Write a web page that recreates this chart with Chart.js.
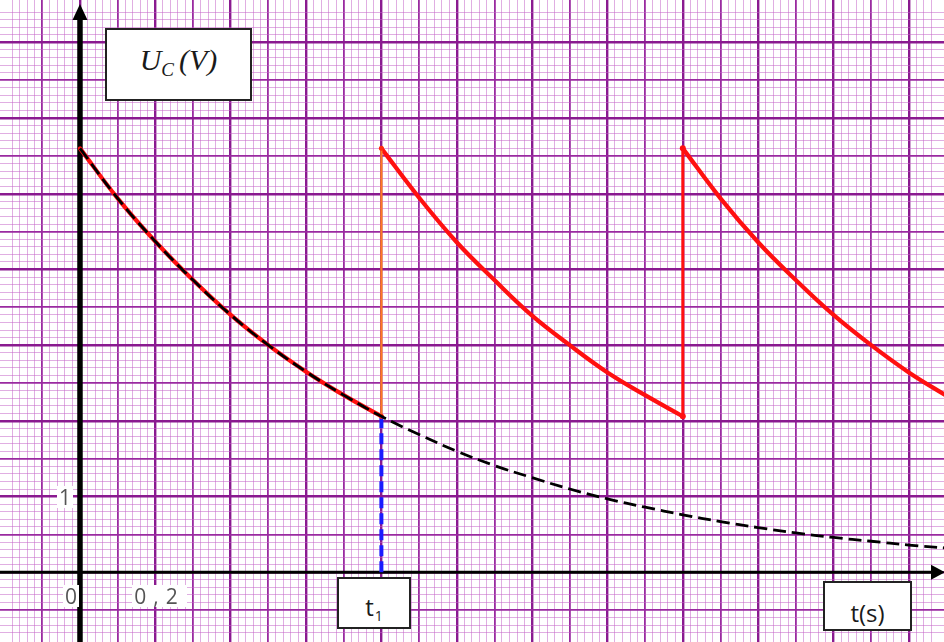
<!DOCTYPE html>
<html><head><meta charset="utf-8">
<script src="https://cdn.jsdelivr.net/npm/chart.js@4.4.0/dist/chart.umd.min.js"></script>
<style>
html,body{margin:0;padding:0;background:#fff;overflow:hidden}
#wrap{position:relative;width:944px;height:642px}
canvas{display:block}
.box{position:absolute;background:#fff;border:2px solid #222;box-sizing:border-box;display:flex;align-items:center;justify-content:center;color:#1a1a1a}
.lbl{position:absolute;background:#fff;color:#555;font-family:'Open Sans',sans-serif;font-size:21px;line-height:22px;padding:0 2px;white-space:nowrap}
#ucbox{font-family:'Liberation Serif',serif;font-style:italic;font-size:30px}
#ucbox sub{font-size:19px;vertical-align:-6px;margin-right:5px}
#t1box,#tsbox{font-family:'Open Sans',sans-serif;font-size:24px}
#t1box sub{font-size:14px;vertical-align:-5px;margin-left:1px}
</style></head><body>
<div id="wrap">
<canvas id="c" width="944" height="642"></canvas>
<div class="box" id="ucbox" style="left:105px;top:28px;width:147px;height:73px;padding-bottom:6px"><span>U<sub>C</sub>(V)</span></div>
<div class="box" id="t1box" style="left:337px;top:577px;width:74px;height:52px;padding-top:8px"><span>t<sub>1</sub></span></div>
<div class="box" id="tsbox" style="left:823px;top:581px;width:89px;height:50px;padding-top:12px"><span>t(s)</span></div>
<div class="lbl" id="lx0">0</div>
<div class="lbl" id="lx1" style="letter-spacing:7px">0,2</div>
<div class="lbl" id="ly1">1</div>
</div>
<script>
// ---- data ----
const seg1Times = [0, 0.1, 0.2, 0.3, 0.4, 0.5, 0.6, 0.7, 0.8];
const seg1Volts = [5.60, 4.94, 4.37, 3.86, 3.40, 3.00, 2.65, 2.34, 2.06];
const seg2Times = [0.8, 0.9, 1.0, 1.1, 1.2, 1.3, 1.4, 1.5, 1.6];
const seg2Volts = [5.60, 4.95, 4.36, 3.86, 3.39, 3.00, 2.64, 2.34, 2.06];
const seg3Times = [1.6, 1.7, 1.8, 1.9, 2.0, 2.1, 2.2, 2.3];
const seg3Volts = [5.60, 4.94, 4.36, 3.86, 3.40, 3.00, 2.64, 2.33];
const dashTimes = [0, 0.1, 0.2, 0.3, 0.4, 0.5, 0.6, 0.7, 0.8, 0.9, 1.0, 1.1, 1.2, 1.3, 1.4, 1.5, 1.6, 1.7, 1.8, 1.9, 2.0, 2.1, 2.2, 2.3, 2.4];
const dashVolts = [5.60, 4.94, 4.37, 3.86, 3.40, 3.00, 2.65, 2.34, 2.06, 1.82, 1.60, 1.41, 1.25, 1.10, 0.97, 0.86, 0.76, 0.67, 0.59, 0.52, 0.46, 0.41, 0.36, 0.32, 0.28];
const rechargeTimes = [0.8, 1.6];
const rechargeLow = [2.06, 2.06];
const rechargeHigh = [5.60, 5.60];
const t1Time = 0.8;
const t1Volt = 2.06;
const xTickValues = [0, 0.2];
const xTickLabels = ['0', '0,2'];
const yTickValues = [1];
const yTickLabels = ['1'];
// axis ranges
const X_MIN = -0.2123, X_MAX = 2.2933;
const Y_MIN = -0.921, Y_MAX = 7.56;

const pts = (xs, ys) => xs.map((v, i) => ({x: v, y: ys[i]}));

function gridOpts(step, majorEvery, halfEvery) {
  const cls = v => {
    const q = v / step, k = Math.round(q);
    if (Math.abs(q - k) > 1e-6) return 0;
    if (k % majorEvery === 0) return 3;
    if (Math.abs(k % majorEvery) === halfEvery) return 2;
    return 1;
  };
  return {
    drawTicks: false,
    color: c => ['rgba(0,0,0,0)', 'rgba(196,100,200,0.52)', '#9a2aa0', '#8a1a90'][cls(c.tick.value)],
    lineWidth: c => [0, 1, 1.8, 2.4][cls(c.tick.value)]
  };
}

const axesPlugin = {
  id: 'axes',
  beforeDatasetsDraw(chart) {
    const {ctx, scales: {x, y}, chartArea: a} = chart;
    const x0 = x.getPixelForValue(0), y0 = y.getPixelForValue(0);
    ctx.save();
    ctx.fillStyle = '#000'; ctx.strokeStyle = '#000';
    ctx.lineWidth = 3;
    ctx.beginPath(); ctx.moveTo(a.left, y0); ctx.lineTo(a.right - 8, y0); ctx.stroke();
    ctx.beginPath(); ctx.moveTo(a.right + 1, y0); ctx.lineTo(a.right - 13, y0 - 7.5); ctx.lineTo(a.right - 13, y0 + 7.5); ctx.closePath(); ctx.fill();
    ctx.lineWidth = 5.5;
    ctx.beginPath(); ctx.moveTo(x0, a.bottom); ctx.lineTo(x0, a.top + 16); ctx.stroke();
    ctx.beginPath(); ctx.moveTo(x0, a.top + 4); ctx.lineTo(x0 - 7.5, a.top + 20); ctx.lineTo(x0 + 7.5, a.top + 20); ctx.closePath(); ctx.fill();
    ctx.restore();
  }
};

const curve = (data, color, width, order) => ({
  data, borderColor: color, borderWidth: width, pointRadius: 0,
  tension: 0.4, fill: false, order, borderCapStyle: 'round'
});

const chart = new Chart(document.getElementById('c'), {
  type: 'line',
  data: {
    datasets: [
      Object.assign(curve(pts(dashTimes, dashVolts), '#000', 2.8, 0), {borderDash: [13, 6], borderCapStyle: 'butt'}),
      {data: pts([rechargeTimes[0], rechargeTimes[0]], [rechargeLow[0], rechargeHigh[0]]), borderColor: '#ff7a22', borderWidth: 2.2,
       pointRadius: 2.5, pointBackgroundColor: '#ff2a10', pointBorderWidth: 0, order: 1},
      {data: pts([rechargeTimes[1], rechargeTimes[1]], [rechargeLow[1], rechargeHigh[1]]), borderColor: '#ff1010', borderWidth: 3,
       pointRadius: 3, pointBackgroundColor: '#ff1010', pointBorderWidth: 0, order: 2},
      curve(pts(seg1Times, seg1Volts), '#ff1010', 4.2, 3),
      curve(pts(seg2Times, seg2Volts), '#ff1010', 4.2, 3),
      curve(pts(seg3Times, seg3Volts), '#ff1010', 4.2, 3),
      {data: pts([t1Time, t1Time], [0, t1Volt]), borderColor: '#1a1aff', borderWidth: 4, borderDash: [11, 5], pointRadius: 0, order: 4}
    ]
  },
  options: {
    responsive: false,
    animation: false,
    events: [],
    layout: {padding: 0, autoPadding: false},
    plugins: {legend: {display: false}, tooltip: {enabled: false}},
    scales: {
      x: {type: 'linear', min: X_MIN, max: X_MAX, border: {display: false},
          ticks: {display: false, stepSize: 0.02}, grid: gridOpts(0.02, 10, 5)},
      y: {type: 'linear', min: Y_MIN, max: Y_MAX, border: {display: false},
          ticks: {display: false, stepSize: 0.1}, grid: gridOpts(0.1, 10, 5)}
    }
  },
  plugins: [axesPlugin]
});

// place tick labels using the chart's scales
(function () {
  const sx = chart.scales.x, sy = chart.scales.y;
  const y0 = sy.getPixelForValue(0), x0 = sx.getPixelForValue(0);
  const l0 = document.getElementById('lx0');
  l0.textContent = xTickLabels[0];
  l0.style.left = (sx.getPixelForValue(xTickValues[0]) - l0.offsetWidth - 1) + 'px';
  l0.style.top = (y0 + 13) + 'px';
  const l1 = document.getElementById('lx1');
  l1.textContent = xTickLabels[1];
  l1.style.left = (sx.getPixelForValue(xTickValues[1]) - l1.offsetWidth / 2 + 4) + 'px';
  l1.style.top = (y0 + 13) + 'px';
  const ly = document.getElementById('ly1');
  ly.textContent = yTickLabels[0];
  ly.style.left = (x0 - ly.offsetWidth - 7) + 'px';
  ly.style.top = (sy.getPixelForValue(yTickValues[0]) - ly.offsetHeight / 2) + 'px';
})();
</script>
</body></html>
